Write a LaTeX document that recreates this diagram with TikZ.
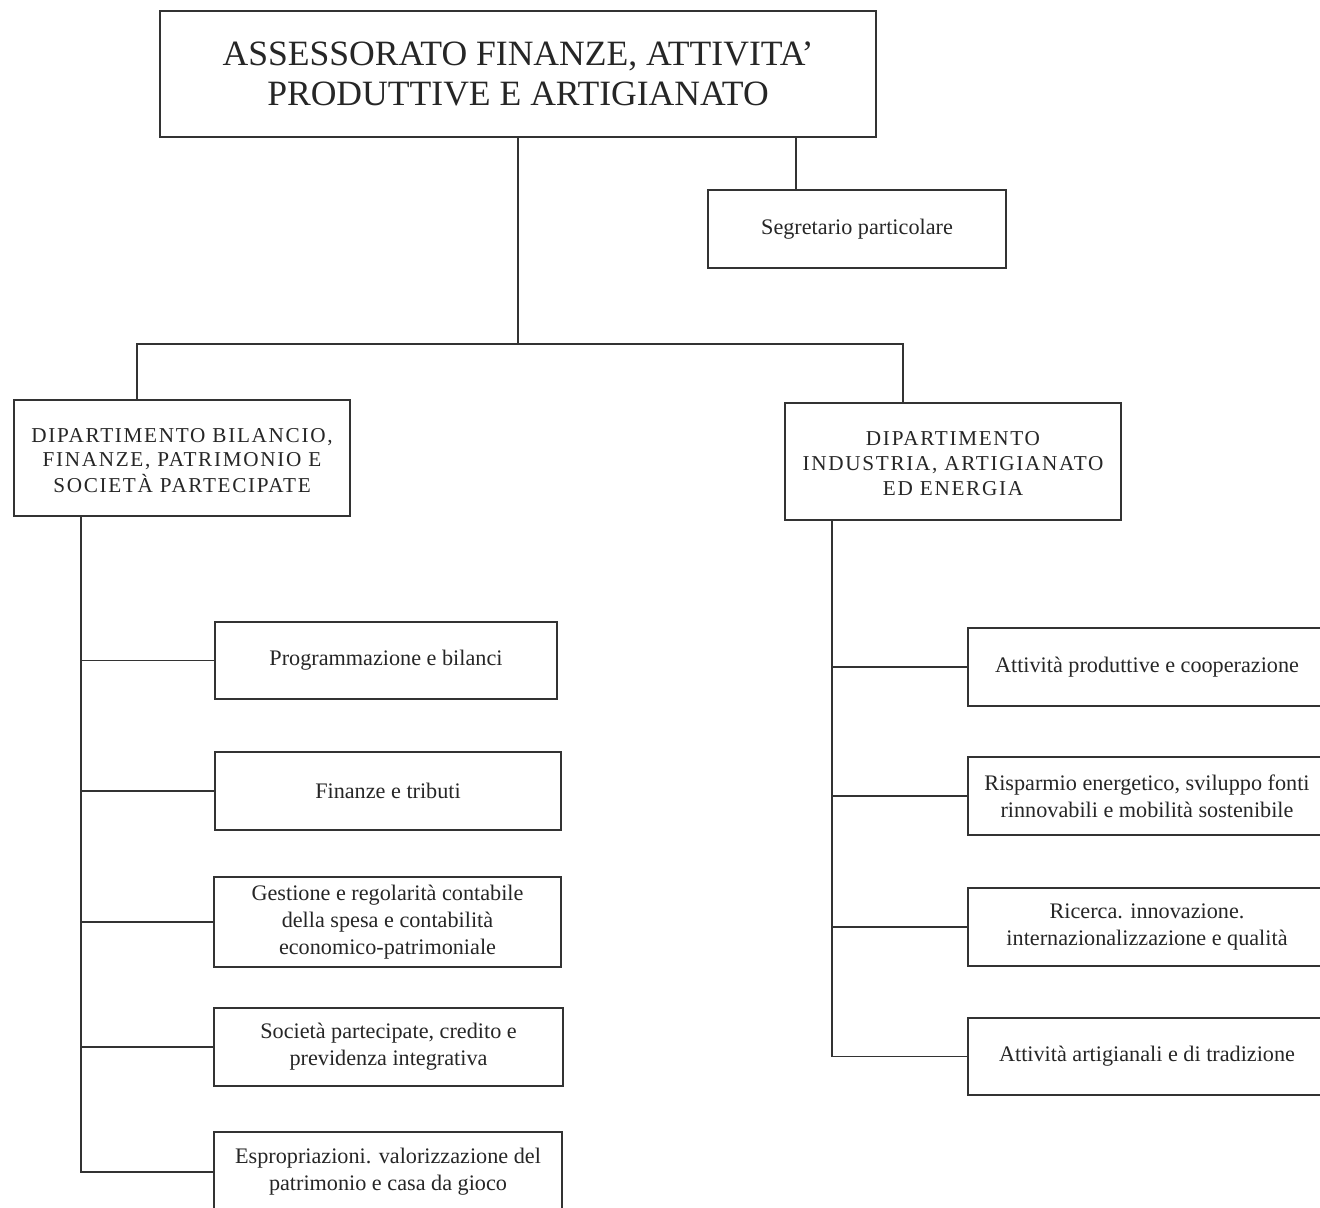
\documentclass[tikz,border=0pt]{standalone}
\usepackage{fontspec}
\setmainfont{Liberation Serif}
\newcommand{\deptlines}[1]{\raisebox{-2pt}[\height][\depth]{\begin{tabular}{@{}c@{}}#1\end{tabular}}}
\begin{document}
\begin{tikzpicture}[x=0.5pt,y=-0.5pt,
  ink/.style={draw=black!80, line width=0.75pt},
  box/.style={ink, rectangle, inner sep=0pt, align=center, text=black!85},
  titlebox/.style={box, font=\fontsize{17.8}{20}\selectfont},
  deptbox/.style={box, font=\fontsize{10.6}{12.8}\selectfont\addfontfeatures{LetterSpace=8}},
  unitbox/.style={box, font=\fontsize{11.1}{13.4}\selectfont},
  link/.style={ink}]
\useasboundingbox (0,0) rectangle (1320,1207);
\fill[white] (0,0) rectangle (1320,1207);
\clip (0,0) rectangle (1320,1207);

% head office and its secretary
\node[titlebox, minimum width=358pt, minimum height=63pt] (top) at (518,74)
  {ASSESSORATO FINANZE, ATTIVITA'\\PRODUTTIVE E ARTIGIANATO};
\node[unitbox, minimum width=149pt, minimum height=39pt] (seg) at (857,229)
  {Segretario particolare};

% the two departments
\node[deptbox, minimum width=168pt, minimum height=58pt] (dl) at (182,458)
  {\deptlines{DIPARTIMENTO BILANCIO,\\[-0.3pt]FINANZE, PATRIMONIO E\\[-0.3pt]SOCIETÀ PARTECIPATE}};
\node[deptbox, minimum width=168pt, minimum height=58.5pt] (dr) at (953,461.5)
  {\deptlines{DIPARTIMENTO\\[-0.3pt]INDUSTRIA, ARTIGIANATO\\[-0.3pt]ED ENERGIA}};

% units of the left department
\node[unitbox, minimum width=171pt, minimum height=38.5pt] (L1) at (386,660.5)
  {Programmazione e bilanci};
\node[unitbox, minimum width=173pt, minimum height=39pt] (L2) at (388,791)
  {Finanze e tributi};
\node[unitbox, minimum width=173.5pt, minimum height=45pt] (L3) at (387.5,922)
  {Gestione e regolarità contabile\\della spesa e contabilità\\economico-patrimoniale};
\node[unitbox, minimum width=174.5pt, minimum height=39pt] (L4) at (388.5,1047)
  {Società partecipate, credito e\\previdenza integrativa};
\node[unitbox, minimum width=174pt, minimum height=40pt] (L5) at (388,1172)
  {Espropriazioni. valorizzazione del\\patrimonio e casa da gioco};

% units of the right department
\node[unitbox, minimum width=179pt, minimum height=39pt] (R1) at (1147,667)
  {Attività produttive e cooperazione};
\node[unitbox, minimum width=179pt, minimum height=39pt] (R2) at (1147,796)
  {Risparmio energetico, sviluppo fonti\\rinnovabili e mobilità sostenibile};
\node[unitbox, minimum width=179pt, minimum height=39pt] (R3) at (1147,927)
  {Ricerca. innovazione.\\internazionalizzazione e qualità};
\node[unitbox, minimum width=179pt, minimum height=38.5pt] (R4) at (1147,1056.5)
  {Attività artigianali e di tradizione};

% branching points
\coordinate (hub) at (518,344);
\coordinate (xL) at (137,0);
\coordinate (xR) at (903,0);
\coordinate (xSeg) at (796,0);
\coordinate (xSL) at (81,0);
\coordinate (xSR) at (832,0);

% connectors
\draw[link] (top.south) -- (hub);
\draw[link] (hub) -| (dl.north -| xL);
\draw[link] (hub) -| (dr.north -| xR);
\draw[link] (top.south -| xSeg) -- (seg.north -| xSeg);

\draw[link] (dl.south -| xSL) |- (L5.west);
\foreach \u in {L1,L2,L3,L4}
  \draw[link] (\u.west -| xSL) -- (\u.west);

\draw[link] (dr.south -| xSR) |- (R4.west);
\foreach \u in {R1,R2,R3}
  \draw[link] (\u.west -| xSR) -- (\u.west);
\end{tikzpicture}
\end{document}
